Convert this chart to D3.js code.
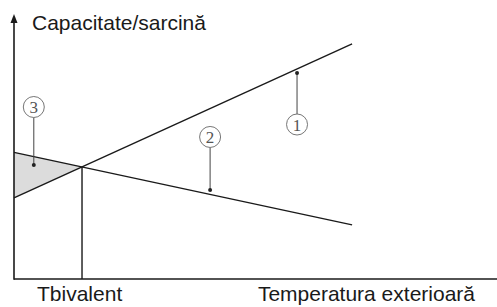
<!DOCTYPE html>
<head>
  <meta charset="utf-8">
  <script src="https://d3js.org/d3.v7.min.js"></script>
  <style>
    body { margin:0; background:#fff; }
    .axis-title { font-family: "Liberation Sans", Arial, sans-serif; font-size: 21px; fill: #1a1a1a; }
    .marker-ring { fill: #fff; stroke: #666; stroke-width: 0.9; }
    .marker-num { font-family: "Liberation Serif", "DejaVu Serif", serif; font-size: 17px; fill: #555; text-anchor: middle; }
    .line { fill: none; stroke: #1a1a1a; stroke-width: 1.4; }
    .leader { stroke: #444; stroke-width: 1; }
  </style>
</head>
<body>
  <div class="chart"></div>
  <script>
    const width = 497, height = 307;

    // chart values (abstract units, 0..100 on both axes)
    const tempX = [0, 70];
    const capacity = [30.6, 88.7];   // ① capacity, rising
    const load = [47.8, 20.4];       // ② load, falling
    const markers = ['1', '2', '3'];
    const markerX = [58.6, 40.6, 4.1];
    const markerLabelY = [58.3, 53.6, 64.9];
    const markerDotY = [77.7, 33.6, 43.0];
    const yTitle = 'Capacitate/sarcină';
    const xLabels = ['Tbivalent', 'Temperatura exterioară'];

    const x = d3.scaleLinear().domain([0, 100]).range([14, 497]);
    const y = d3.scaleLinear().domain([0, 100]).range([279, 14]);

    const svg = d3.select('.chart').append('svg')
      .attr('width', width).attr('height', height);

    const capAt = t => capacity[0] + (capacity[1] - capacity[0]) * (t - tempX[0]) / (tempX[1] - tempX[0]);

    // bivalent point
    const tb = (load[0] - capacity[0]) / ((capacity[1] - capacity[0]) - (load[1] - load[0])) * (tempX[1] - tempX[0]);
    const yb = capAt(tb);

    // shaded deficit triangle
    svg.append('path')
      .attr('d', d3.line()([[x(0), y(capacity[0])], [x(0), y(load[0])], [x(tb), y(yb)]]))
      .attr('fill', '#dcdcdc');

    const line = d3.line().x(d => x(d[0])).y(d => y(d[1]));
    svg.append('path').attr('class', 'line')
      .attr('d', line(tempX.map((t, i) => [t, capacity[i]])));
    svg.append('path').attr('class', 'line')
      .attr('d', line(tempX.map((t, i) => [t, load[i]])));

    // bivalent vertical
    svg.append('line').attr('class', 'line')
      .attr('x1', x(tb)).attr('x2', x(tb))
      .attr('y1', y(yb)).attr('y2', y(0));

    // axes
    svg.append('line').attr('stroke', '#1a1a1a').attr('stroke-width', 1.6)
      .attr('x1', x(0)).attr('x2', x(0)).attr('y1', y(0) + 0.8).attr('y2', y(100) + 6);
    svg.append('line').attr('stroke', '#1a1a1a').attr('stroke-width', 1.6)
      .attr('x1', x(0)).attr('x2', x(100)).attr('y1', y(0)).attr('y2', y(0));
    svg.append('path')
      .attr('d', `M${x(0)},${y(100)} L${x(0) - 3.5},${y(100) + 9} L${x(0) + 3.5},${y(100) + 9} Z`)
      .attr('fill', '#1a1a1a');

    // circled markers with leaders
    const r = 10.5;
    markers.forEach((m, i) => {
      const cx = x(markerX[i]), cy = y(markerLabelY[i]), dy = y(markerDotY[i]);
      const edge = dy > cy ? cy + r : cy - r;
      svg.append('line').attr('class', 'leader')
        .attr('x1', cx).attr('x2', cx).attr('y1', dy).attr('y2', edge);
      svg.append('circle').attr('cx', cx).attr('cy', dy).attr('r', 2).attr('fill', '#222');
      svg.append('circle').attr('class', 'marker-ring').attr('cx', cx).attr('cy', cy).attr('r', r);
      svg.append('text').attr('class', 'marker-num')
        .attr('x', cx).attr('y', cy).attr('dy', '0.36em').text(m);
    });

    // texts
    svg.append('text').attr('class', 'axis-title')
      .attr('x', 32).attr('y', 30).text(yTitle);
    svg.append('text').attr('class', 'axis-title')
      .attr('x', 37).attr('y', 301).text(xLabels[0]);
    svg.append('text').attr('class', 'axis-title')
      .attr('x', 475).attr('y', 301).attr('text-anchor', 'end').text(xLabels[1]);
  </script>
</body>
